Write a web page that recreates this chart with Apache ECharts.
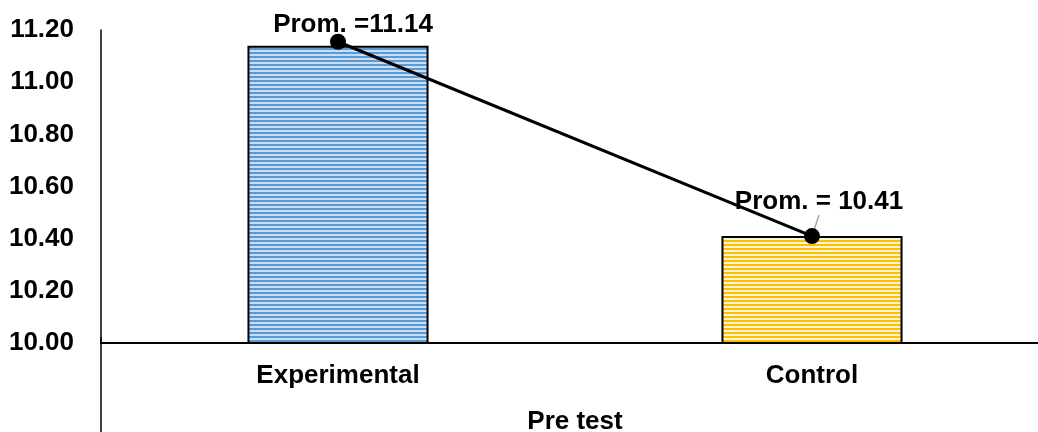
<!DOCTYPE html>
<html>
<head>
<meta charset="utf-8">
<script src="https://cdn.jsdelivr.net/npm/echarts@6/dist/echarts.min.js"></script>
<style>html,body{margin:0;padding:0;background:#fff}#c{width:1038px;height:432px}</style>
</head>
<body>
<div id="c"></div>
<script>
const categories = ['Experimental', 'Control'];
const barValues = [11.14, 10.41];
const lineValues = [11.155, 10.41];
const pointLabels = ['Prom. =11.14', 'Prom. = 10.41'];
const axisName = 'Pre test';
const yMin = 10.0, yMax = 11.2, yStep = 0.2;

function stripe(c1, c2) {
  const cv = document.createElement('canvas');
  cv.width = 4; cv.height = 4;
  const ctx = cv.getContext('2d');
  ctx.fillStyle = c2; ctx.fillRect(0, 0, 4, 4);
  ctx.fillStyle = c1; ctx.fillRect(0, 0, 4, 2);
  return { image: cv, repeat: 'repeat' };
}
const fills = [stripe('#5B9BD5', '#C9DEF2'), stripe('#FFC000', '#FFF4D6')];
const font = { fontFamily: 'Liberation Sans, Arial, sans-serif', fontWeight: 'bold', fontSize: 26, color: '#000' };

const chart = echarts.init(document.getElementById('c'));
chart.setOption({
  animation: false,
  grid: [
    { left: 101, top: 30, height: 313, width: 948, outerBoundsMode: 'none', containLabel: false },
    { left: 101, top: 338, height: 100, width: 948, outerBoundsMode: 'none', containLabel: false }
  ],
  xAxis: [
    {
      type: 'category', data: categories, gridIndex: 0,
      axisLine: { lineStyle: { color: '#000', width: 2 } },
      axisTick: { show: false },
      axisLabel: Object.assign({ margin: 20 }, font),
      name: axisName, nameLocation: 'middle', nameGap: 66,
      nameTextStyle: font
    },
    { type: 'category', gridIndex: 1, show: false, data: categories }
  ],
  yAxis: [
    {
      type: 'value', gridIndex: 0, min: yMin, max: yMax, interval: yStep,
      axisLine: { show: true, lineStyle: { color: '#000', width: 1.5 } },
      axisTick: { show: false },
      splitLine: { show: false },
      axisLabel: Object.assign({ margin: 27, formatter: v => v.toFixed(2) }, font)
    },
    {
      type: 'value', gridIndex: 1, min: 0, max: 1,
      axisLine: { show: true, onZero: false, lineStyle: { color: '#000', width: 1.5 } },
      axisTick: { show: false }, axisLabel: { show: false }, splitLine: { show: false }
    }
  ],
  series: [
    {
      type: 'bar', xAxisIndex: 0, yAxisIndex: 0, barWidth: '38.2%',
      data: barValues.map((v, i) => ({ value: v, itemStyle: { color: fills[i] } })),
      itemStyle: { borderColor: '#000', borderWidth: 2 },
      z: 2
    },
    {
      type: 'line', xAxisIndex: 0, yAxisIndex: 0,
      data: lineValues.map((v, i) => ({
        value: v,
        label: i === 0 ? { offset: [15, -17] } : { offset: [7, -34] },
        labelLine: i === 0 ? { show: false } : { show: true }
      })),
      lineStyle: { color: '#000', width: 3 },
      symbol: 'circle', symbolSize: 16,
      itemStyle: { color: '#000' },
      label: Object.assign({ show: true, position: 'inside', formatter: p => pointLabels[p.dataIndex] }, font),
      labelLine: { lineStyle: { color: '#A6A6A6', width: 1.5 } },
      z: 5
    }
  ]
});
</script>
</body>
</html>
